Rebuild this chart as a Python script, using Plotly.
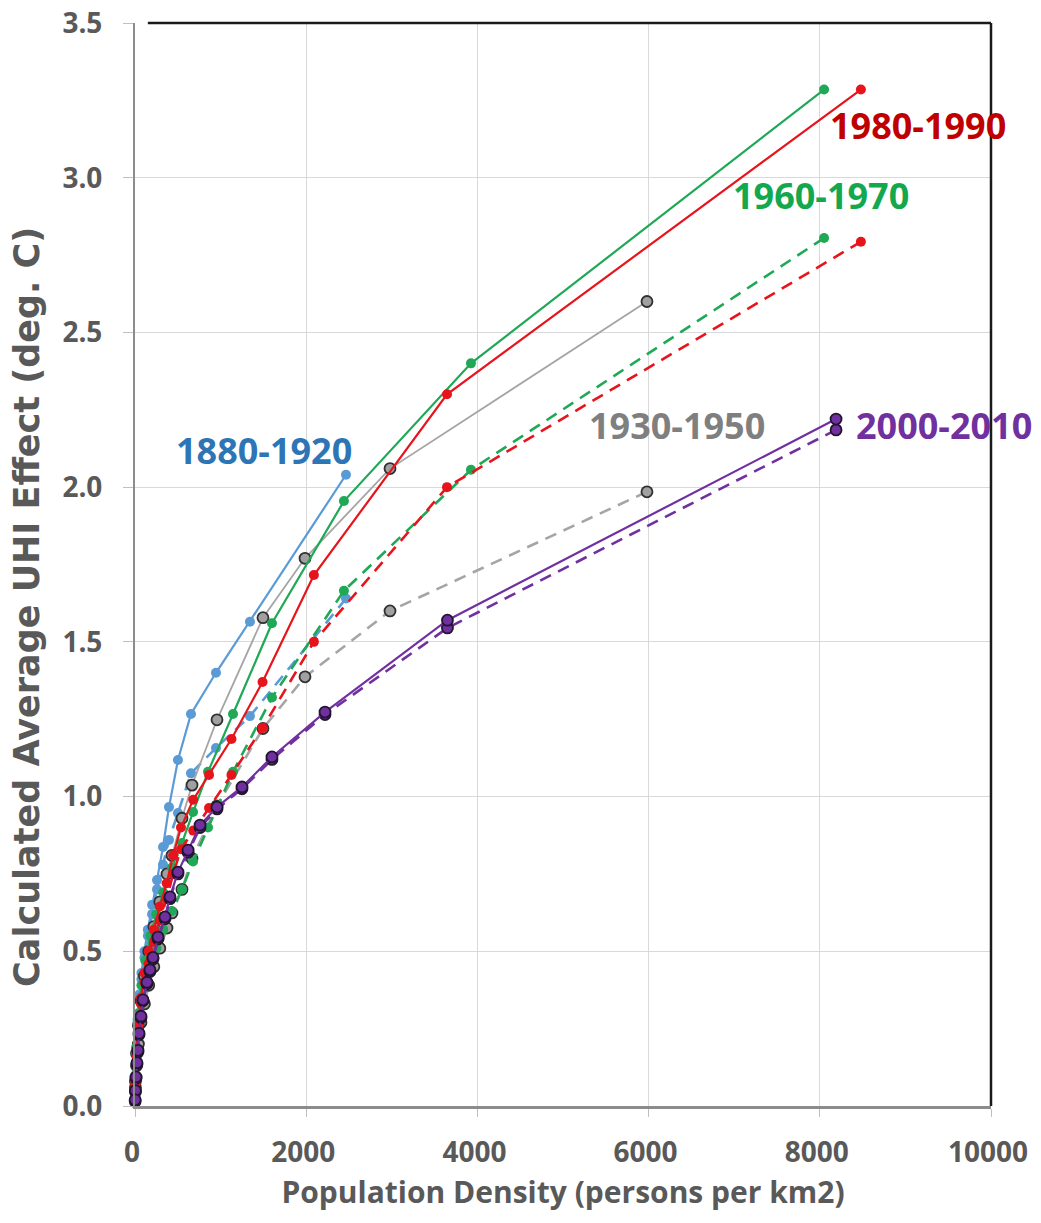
import plotly.graph_objects as go

# ---- data ----
periods = ["1880-1920", "1930-1950", "1960-1970", "1980-1990", "2000-2010"]

x_1880 = [2465, 1343, 946, 654, 502, 397, 327, 257, 200, 150, 110, 75, 50, 30, 15, 5]
y_1880_solid = [2.04, 1.565, 1.40, 1.267, 1.118, 0.966, 0.837, 0.73, 0.65, 0.57, 0.50, 0.43, 0.36, 0.28, 0.19, 0.09]
y_1880_dash = [1.64, 1.26, 1.157, 1.075, 0.947, 0.86, 0.78, 0.70, 0.62, 0.55, 0.48, 0.41, 0.34, 0.27, 0.18, 0.085]

x_1930 = [5981, 2979, 1986, 1495, 958, 666, 549, 432, 374, 290, 220, 160, 110, 70, 40, 18, 5]
y_1930_solid = [2.60, 2.06, 1.77, 1.578, 1.248, 1.037, 0.93, 0.81, 0.75, 0.66, 0.58, 0.50, 0.42, 0.34, 0.26, 0.17, 0.08]
y_1930_dash = [1.985, 1.60, 1.387, 1.22, 0.97, 0.80, 0.70, 0.624, 0.575, 0.51, 0.45, 0.39, 0.33, 0.27, 0.20, 0.13, 0.06]

x_1960 = [8050, 3925, 2441, 1600, 1145, 853, 678, 549, 430, 330, 250, 180, 120, 75, 40, 15, 5]
y_1960_solid = [3.285, 2.40, 1.955, 1.56, 1.267, 1.08, 0.95, 0.85, 0.77, 0.69, 0.62, 0.55, 0.47, 0.39, 0.30, 0.19, 0.10]
y_1960_dash = [2.805, 2.056, 1.665, 1.32, 1.08, 0.90, 0.79, 0.70, 0.63, 0.57, 0.51, 0.45, 0.39, 0.33, 0.26, 0.17, 0.08]

x_1980 = [8480, 3645, 2090, 1490, 1127, 865, 680, 537, 446, 370, 290, 220, 160, 110, 70, 40, 18, 5]
y_1980_solid = [3.285, 2.30, 1.716, 1.37, 1.186, 1.07, 0.99, 0.90, 0.81, 0.72, 0.645, 0.57, 0.50, 0.43, 0.35, 0.27, 0.18, 0.08]
y_1980_dash = [2.793, 2.00, 1.50, 1.222, 1.07, 0.963, 0.89, 0.83, 0.75, 0.67, 0.60, 0.53, 0.46, 0.40, 0.33, 0.25, 0.16, 0.07]

x_2000 = [8190, 3650, 2220, 1600, 1250, 958, 760, 620, 502, 409, 350, 269, 210, 175, 140, 93, 70, 47, 35, 23, 12, 5, 2]
y_2000_solid = [2.22, 1.57, 1.273, 1.128, 1.031, 0.966, 0.908, 0.827, 0.756, 0.676, 0.611, 0.546, 0.48, 0.44, 0.40, 0.343, 0.29, 0.235, 0.18, 0.14, 0.094, 0.05, 0.02]
y_2000_dash = [2.185, 1.545, 1.265, 1.12, 1.025, 0.96, 0.90, 0.82, 0.75, 0.67, 0.605, 0.54, 0.475, 0.435, 0.395, 0.34, 0.285, 0.23, 0.175, 0.135, 0.09, 0.045, 0.015]

label_x = [1507, 6332, 8014, 9147, 9451]
label_y = [2.12, 2.20, 2.944, 3.17, 2.20]

x_ticks = [0, 2000, 4000, 6000, 8000, 10000]
y_ticks = [0.0, 0.5, 1.0, 1.5, 2.0, 2.5, 3.0, 3.5]

x_title = "Population Density (persons per km2)"
y_title = "Calculated Average UHI Effect (deg. C)"

# ---- styles ----
line_col = {"1880-1920": "#5B9BD5", "1930-1950": "#A5A5A5", "1960-1970": "#1FA855",
            "1980-1990": "#E8141C", "2000-2010": "#7030A0"}
text_col = {"1880-1920": "#2E75B6", "1930-1950": "#7F7F7F", "1960-1970": "#14A84E",
            "1980-1990": "#C00000", "2000-2010": "#7030A0"}
marker_fill = {"1880-1920": "#5B9BD5", "1930-1950": "#A0A0A0", "1960-1970": "#1FA855",
               "1980-1990": "#E8141C", "2000-2010": "#7030A0"}
marker_line = {"1880-1920": None, "1930-1950": "#303030", "1960-1970": None,
               "1980-1990": None, "2000-2010": "#231530"}

series = {
    "1880-1920": (x_1880, y_1880_solid, y_1880_dash),
    "1930-1950": (x_1930, y_1930_solid, y_1930_dash),
    "1960-1970": (x_1960, y_1960_solid, y_1960_dash),
    "1980-1990": (x_1980, y_1980_solid, y_1980_dash),
    "2000-2010": (x_2000, y_2000_solid, y_2000_dash),
}

fig = go.Figure()
for p in periods:
    xs, ys, yd = series[p]
    ml = marker_line[p]
    mk = dict(size=10 if ml is None else 11, color=marker_fill[p],
              line=dict(width=0 if ml is None else 1.8, color=ml or marker_fill[p]))
    lw = 2.2 if p != "1930-1950" else 1.8
    fig.add_trace(go.Scatter(x=xs, y=yd, mode="lines+markers", name=p + " dashed",
                             line=dict(color=line_col[p], width=2.6, dash="12px,8px"),
                             marker=mk, cliponaxis=False))
    fig.add_trace(go.Scatter(x=xs, y=ys, mode="lines+markers", name=p,
                             line=dict(color=line_col[p], width=lw),
                             marker=mk, cliponaxis=False))

for p, lx, ly in zip(periods, label_x, label_y):
    fig.add_annotation(x=lx, y=ly, text="<b>" + p + "</b>", showarrow=False,
                       font=dict(family="Open Sans", size=36, color=text_col[p]),
                       xanchor="center", yanchor="middle")

# y-axis title placed as a rotated annotation so its position can match
fig.add_annotation(xref="paper", yref="paper", x=-0.126, y=0.461, text="<b>" + y_title + "</b>",
                   textangle=-90, showarrow=False, xanchor="center", yanchor="middle",
                   font=dict(family="DejaVu Sans", size=35, color="#595959"))

axis_font = dict(family="Open Sans", size=28, color="#595959", weight="bold")
fig.update_layout(
    width=1025, height=1207,
    margin=dict(l=127, r=42, t=15, b=109, autoexpand=False),
    paper_bgcolor="white", plot_bgcolor="white",
    showlegend=False,
    xaxis=dict(range=[0, 10000], tickvals=x_ticks, tickformat="d", automargin=False,
               showgrid=True, gridcolor="#D9D9D9", gridwidth=1.2,
               zeroline=False, showline=True, linecolor="#8C8C8C", linewidth=3,
               ticks="outside", ticklen=8, tickcolor="#BFBFBF", tickwidth=1,
               tickfont=axis_font, ticklabelstandoff=11, ticklabeloverflow="allow",
               ticklabelshift=-3,
               title=dict(text=x_title,
                          font=dict(family="Open Sans", size=30, color="#595959", weight="bold"),
                          standoff=14)),
    yaxis=dict(range=[0, 3.5], tickvals=y_ticks, tickformat=".1f", automargin=False,
               showgrid=True, gridcolor="#D9D9D9", gridwidth=1.2,
               zeroline=False, showline=True, linecolor="#8C8C8C", linewidth=2,
               ticks="outside", ticklen=10, tickcolor="#BFBFBF", tickwidth=1,
               tickfont=axis_font, ticklabelstandoff=15, ticklabeloverflow="allow"),
    shapes=[
        dict(type="line", xref="paper", yref="paper", x0=0.015, x1=1, y0=1, y1=1,
             line=dict(color="#1A1A1A", width=2.5)),
        dict(type="line", xref="paper", yref="paper", x0=1, x1=1, y0=0, y1=1,
             line=dict(color="#1A1A1A", width=2.5)),
    ],
)

fig.write_html("out.html")
